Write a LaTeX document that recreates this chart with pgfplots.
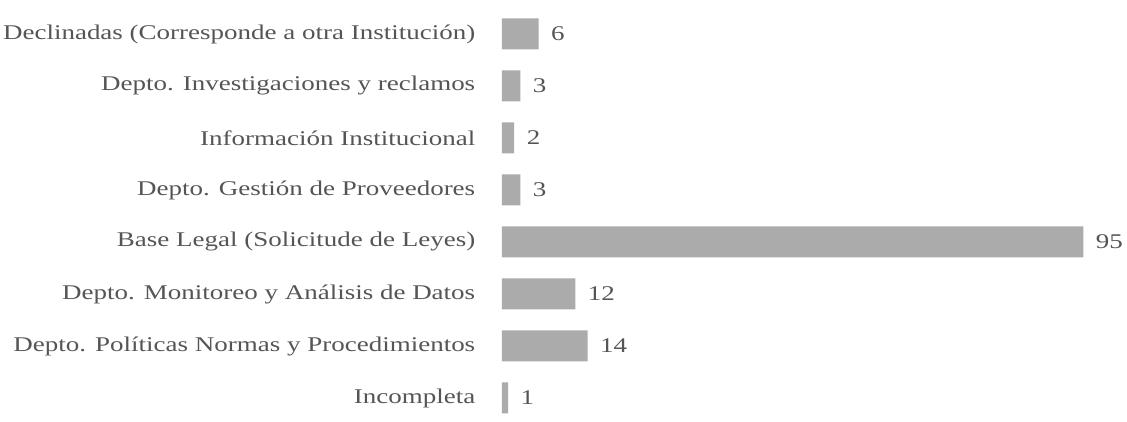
\documentclass[border=0pt]{standalone}
\usepackage{fontspec}
\setmainfont{Liberation Serif}[FakeStretch=1.29]
\usepackage{pgfplots}
\pgfplotsset{compat=1.18}
\definecolor{txt}{HTML}{555555}
\definecolor{barc}{HTML}{ABABAB}
\begin{document}
\begin{tikzpicture}
\begin{axis}[
  at={(0,0)}, anchor=south west,
  scale only axis, width=612bp, height=413.4bp,
  xbar, xmin=0, xmax=100, ymin=-0.45, ymax=7.5,
  bar width=31bp,
  axis line style={draw=none},
  tick style={draw=none},
  xtick=\empty,
  ytick={0,1,2,3,4,5,6,7},
  /pgf/number format/assume math mode=true,
  yticklabels={Incompleta,
    Depto. Políticas Normas y Procedimientos,
    Depto. Monitoreo y Análisis de Datos,
    Base Legal (Solicitude de Leyes),
    Depto. Gestión de Proveedores,
    Información Institucional,
    Depto. Investigaciones y reclamos,
    Declinadas (Corresponde a otra Institución)},
  yticklabel style={anchor=east, xshift=-19bp, text=txt, font=\fontsize{21}{24}\selectfont},
  nodes near coords,
  nodes near coords style={anchor=west, xshift=9bp, text=txt, font=\fontsize{21}{24}\selectfont},
]
\addplot[fill=barc, draw=none] coordinates {(1,0) (14,1) (12,2) (95,3) (3,4) (2,5) (3,6) (6,7)};
\end{axis}
\pgfresetboundingbox
\path[use as bounding box] (-502bp,-0.4bp) rectangle (625bp,421.4bp);
\end{tikzpicture}
\end{document}
